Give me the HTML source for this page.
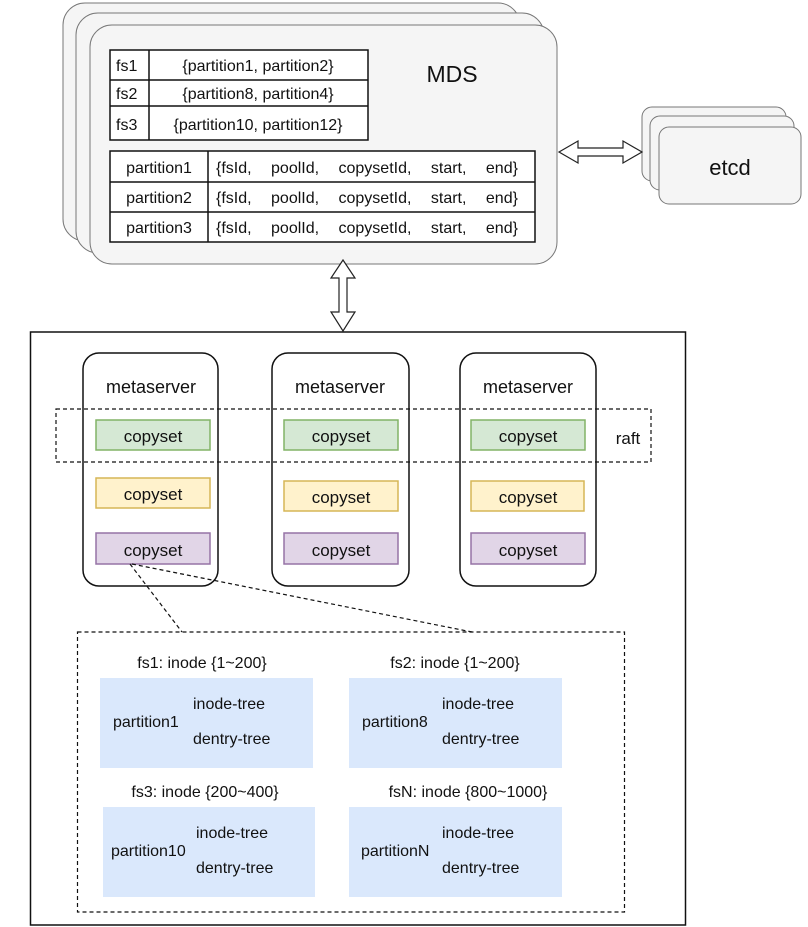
<!DOCTYPE html>
<html><head><meta charset="utf-8"><style>body{margin:0;background:#fff}svg{display:block}text{font-family:"Liberation Sans",Arial,sans-serif;fill:#111}</style></head><body>
<svg width="808" height="927" viewBox="0 0 808 927" xmlns="http://www.w3.org/2000/svg">
<g stroke="#777" stroke-width="1" fill="#f5f5f5">
<rect x="63" y="3" width="457" height="238" rx="22"/>
<rect x="76" y="13" width="468" height="240" rx="22"/>
<rect x="90" y="25" width="467" height="239" rx="22"/>
</g>
<g stroke="#111" stroke-width="1.5" fill="#fff">
<rect x="110" y="50" width="258" height="90"/>
<line x1="110" y1="80" x2="368" y2="80"/><line x1="110" y1="106" x2="368" y2="106"/><line x1="149" y1="50" x2="149" y2="140"/>
<rect x="110" y="151" width="425" height="91"/>
<line x1="110" y1="182" x2="535" y2="182"/><line x1="110" y1="212" x2="535" y2="212"/><line x1="208" y1="151" x2="208" y2="242"/>
</g>
<g font-size="16">
<text x="116" y="71">fs1</text><text x="116" y="99">fs2</text><text x="116" y="130">fs3</text>
<text x="258" y="71" text-anchor="middle">{partition1, partition2}</text>
<text x="258" y="99" text-anchor="middle">{partition8, partition4}</text>
<text x="258" y="130" text-anchor="middle">{partition10, partition12}</text>
<text x="159" y="173" text-anchor="middle">partition1</text>
<text x="159" y="203" text-anchor="middle">partition2</text>
<text x="159" y="233" text-anchor="middle">partition3</text>
<text x="216" y="173" word-spacing="15">{fsId, poolId, copysetId, start, end}</text>
<text x="216" y="203" word-spacing="15">{fsId, poolId, copysetId, start, end}</text>
<text x="216" y="233" word-spacing="15">{fsId, poolId, copysetId, start, end}</text>
</g>
<text x="452" y="82" font-size="23" text-anchor="middle">MDS</text>
<g stroke="#777" stroke-width="1" fill="#f5f5f5">
<rect x="642" y="107" width="144" height="74" rx="10"/>
<rect x="650" y="116" width="144" height="74" rx="10"/>
<rect x="659" y="127" width="142" height="77" rx="10"/>
</g>
<text x="730" y="175" font-size="22" text-anchor="middle" fill="#333">etcd</text>
<path d="M559,152 L578,141 L578,148 L623,148 L623,141 L642,152 L623,163 L623,156 L578,156 L578,163 Z" fill="#fff" stroke="#222" stroke-width="1.2"/>
<path d="M343,260 L355,278 L347,278 L347,312 L355,312 L343,331 L331,312 L339,312 L339,278 L331,278 Z" fill="#fff" stroke="#222" stroke-width="1.2"/>
<rect x="30.5" y="332" width="655" height="593" fill="none" stroke="#111" stroke-width="1.5"/>
<g stroke="#111" stroke-width="1.5" fill="#fff">
<rect x="83" y="353" width="135" height="233" rx="16"/>
<rect x="272" y="353" width="137" height="233" rx="16"/>
<rect x="460" y="353" width="136" height="233" rx="16"/>
</g>
<g font-size="18" text-anchor="middle"><text x="151" y="393">metaserver</text><text x="340" y="393">metaserver</text><text x="528" y="393">metaserver</text></g>
<rect x="56" y="409" width="595" height="53" fill="none" stroke="#111" stroke-width="1.2" stroke-dasharray="4,3"/>
<text x="628" y="444" font-size="17" text-anchor="middle">raft</text>
<g stroke-width="1.5">
<rect x="96" y="420" width="114" height="30" fill="#d5e8d4" stroke="#82b366"/>
<rect x="284" y="420" width="114" height="30" fill="#d5e8d4" stroke="#82b366"/>
<rect x="471" y="420" width="114" height="30" fill="#d5e8d4" stroke="#82b366"/>
<rect x="96" y="478" width="114" height="30" fill="#fff2cc" stroke="#d6b656"/>
<rect x="284" y="481" width="114" height="30" fill="#fff2cc" stroke="#d6b656"/>
<rect x="471" y="481" width="113" height="30" fill="#fff2cc" stroke="#d6b656"/>
<rect x="96" y="533" width="114" height="31" fill="#e1d5e7" stroke="#9673a6"/>
<rect x="284" y="533" width="114" height="31" fill="#e1d5e7" stroke="#9673a6"/>
<rect x="471" y="533" width="114" height="31" fill="#e1d5e7" stroke="#9673a6"/>
</g>
<g font-size="17" text-anchor="middle">
<text x="153" y="442">copyset</text><text x="341" y="442">copyset</text><text x="528" y="442">copyset</text>
<text x="153" y="500">copyset</text><text x="341" y="503">copyset</text><text x="528" y="503">copyset</text>
<text x="153" y="556">copyset</text><text x="341" y="556">copyset</text><text x="528" y="556">copyset</text>
</g>
<g stroke="#111" stroke-width="1.2" stroke-dasharray="4,3" fill="none">
<line x1="130" y1="564" x2="182" y2="632"/>
<line x1="132" y1="564" x2="472" y2="632"/>
<rect x="77.5" y="632" width="547" height="280"/>
</g>
<g fill="#dae8fc">
<rect x="100" y="678" width="213" height="90"/>
<rect x="349" y="678" width="213" height="90"/>
<rect x="103" y="807" width="212" height="90"/>
<rect x="349" y="807" width="213" height="90"/>
</g>
<g font-size="16">
<text x="202" y="668" text-anchor="middle">fs1: inode {1~200}</text>
<text x="455" y="668" text-anchor="middle">fs2: inode {1~200}</text>
<text x="205" y="797" text-anchor="middle">fs3: inode {200~400}</text>
<text x="468" y="797" text-anchor="middle">fsN: inode {800~1000}</text>
<text x="113" y="727">partition1</text><text x="193" y="709">inode-tree</text><text x="193" y="744">dentry-tree</text>
<text x="362" y="727">partition8</text><text x="442" y="709">inode-tree</text><text x="442" y="744">dentry-tree</text>
<text x="111" y="856">partition10</text><text x="196" y="838">inode-tree</text><text x="196" y="873">dentry-tree</text>
<text x="361" y="856">partitionN</text><text x="442" y="838">inode-tree</text><text x="442" y="873">dentry-tree</text>
</g>
</svg>
</body></html>
